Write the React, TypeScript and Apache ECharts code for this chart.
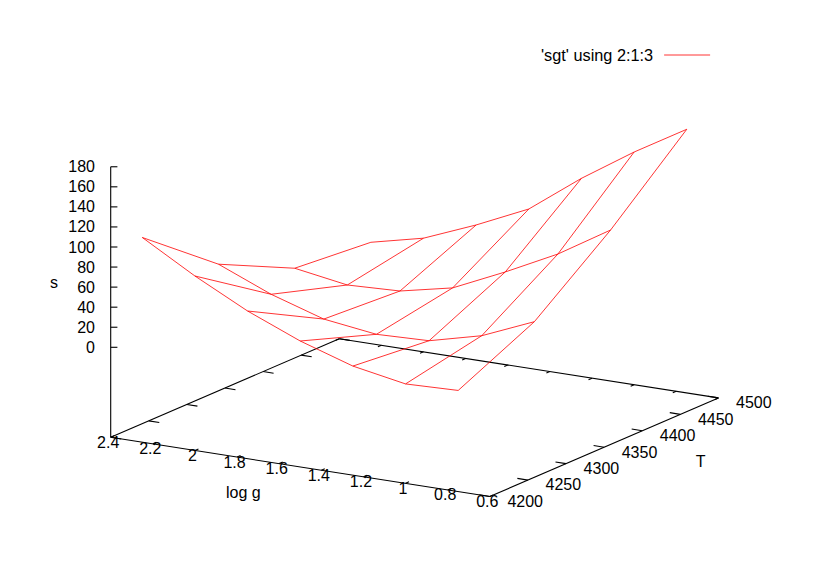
import React, { useEffect, useRef } from "react";
import * as echarts from "echarts";

const LEGEND_NAME = "'sgt' using 2:1:3";
const logG = [2.25, 2, 1.75, 1.5, 1.25, 1, 0.75];
const temps = [4200, 4300, 4400, 4500];
const s4200 = [114.4, 84.2, 57.5, 35.8, 19, 9.4, 11.1];
const s4300 = [55, 33.2, 16.7, 9.7, 11.5, 24.7, 46.9];
const s4400 = [18.2, 9.7, 11.9, 23.2, 47.3, 73.4, 105.5];
const s4500 = [11.3, 23.6, 45, 69.1, 107.9, 142.3, 173.2];
const surface = [s4200, s4300, s4400, s4500];

const gTicks = ["2.4", "2.2", "2", "1.8", "1.6", "1.4", "1.2", "1", "0.8", "0.6"];
const tTicks = ["4200", "4250", "4300", "4350", "4400", "4450", "4500"];
const sTicks = ["0", "20", "40", "60", "80", "100", "120", "140", "160", "180"];

// View of the 3D box: screen position of the (gMax, tMin, base) corner and the axis vectors
const view = {
  originX: 110.7, originY: 437.3,
  gPxX: 210.6, gPxY: 32.9,
  tPxX: 0.762, tPxY: -0.3287,
  sPxY: -1.003, baseOffset: -90,
  gMax: 2.4, gMin: 0.6, tMin: 4200, tMax: 4500, sMax: 180,
};

function project(g: number, t: number, z: number | null): [number, number] {
  const x = view.originX + (view.gMax - g) * view.gPxX + (t - view.tMin) * view.tPxX;
  const y0 = view.originY + (view.gMax - g) * view.gPxY + (t - view.tMin) * view.tPxY;
  return [x, z === null ? y0 : y0 + view.baseOffset + z * view.sPxY];
}

const segments: number[][] = [];
const addSeg = (a: [number, number], b: [number, number]) => segments.push([a[0], a[1], b[0], b[1]]);
const texts: { x: number; y: number; text: string; align: string }[] = [];

// box edges
addSeg(project(view.gMax, view.tMin, null), project(view.gMin, view.tMin, null));
addSeg(project(view.gMin, view.tMin, null), project(view.gMin, view.tMax, null));
addSeg(project(view.gMin, view.tMax, null), project(view.gMax, view.tMax, null));
addSeg(project(view.gMax, view.tMax, null), project(view.gMax, view.tMin, null));
// vertical axis
const zBase = project(view.gMax, view.tMin, null);
const zTop = project(view.gMax, view.tMin, view.sMax);
addSeg(zBase, zTop);

gTicks.forEach((l) => {
  const g = Number(l);
  const f = project(g, view.tMin, null);
  const b = project(g, view.tMax, null);
  segments.push([f[0], f[1], f[0] + 3.5, f[1] - 1.5]);
  segments.push([b[0], b[1], b[0] - 3.5, b[1] + 1.5]);
  texts.push({ x: f[0] - 2.5, y: f[1] + 5, text: l, align: "center" });
});
tTicks.forEach((l) => {
  const t = Number(l);
  const r = project(view.gMin, t, null);
  const a = project(view.gMax, t, null);
  segments.push([r[0], r[1], r[0] - 10.5, r[1] - 1.7]);
  segments.push([a[0], a[1], a[0] + 10.5, a[1] + 1.7]);
  texts.push({ x: r[0] + 35.4, y: r[1] + 4.8, text: l, align: "center" });
});
sTicks.forEach((l) => {
  const p = project(view.gMax, view.tMin, Number(l));
  segments.push([p[0], p[1], p[0] + 6.7, p[1]]);
  texts.push({ x: 95, y: p[1], text: l, align: "right" });
});
texts.push({ x: 54, y: 282.5, text: "s", align: "center" });
texts.push({ x: 243.3, y: 492.7, text: "log g", align: "center" });
texts.push({ x: 700.7, y: 461.7, text: "T", align: "center" });

const RED = "#ff0000";
const FONT = '16px "Liberation Sans", Arial, sans-serif';

function surfaceLine(points: [number, number][]) {
  return {
    type: "line",
    name: LEGEND_NAME,
    data: points,
    symbol: "none",
    silent: true,
    z: 3,
    lineStyle: { color: RED, width: 0.8 },
    itemStyle: { color: RED },
  };
}

export default function App() {
  const ref = useRef<HTMLDivElement>(null);
  useEffect(() => {
    if (!ref.current) return;
    const chart = echarts.init(ref.current, undefined, { renderer: "svg" });
    const rows = temps.map((t, i) =>
      surfaceLine(logG.map((g, j) => project(g, t, surface[i][j])))
    );
    const cols = logG.map((g, j) =>
      surfaceLine(temps.map((t, i) => project(g, t, surface[i][j])))
    );
    chart.setOption({
      animation: false,
      backgroundColor: "#ffffff",
      grid: { left: 0, right: 0, top: 0, bottom: 0 },
      xAxis: { type: "value", min: 0, max: 830, show: false },
      yAxis: { type: "value", min: 0, max: 581, inverse: true, show: false },
      legend: {
        data: [LEGEND_NAME],
        left: 536,
        top: 42,
        align: "right",
        itemWidth: 46,
        itemHeight: 1,
        selectedMode: false,
        lineStyle: { width: 0.8, color: RED },
        textStyle: {
          color: "#000000",
          fontFamily: '"Liberation Sans", Arial, sans-serif',
          fontSize: 16.3,
          padding: [0, 6, 0, 0],
        },
      },
      series: [
        {
          type: "custom",
          name: "axes",
          silent: true,
          z: 2,
          clip: false,
          data: segments,
          renderItem: (_: any, api: any) => {
            const a = api.coord([api.value(0), api.value(1)]);
            const b = api.coord([api.value(2), api.value(3)]);
            return {
              type: "line",
              shape: { x1: a[0], y1: a[1], x2: b[0], y2: b[1] },
              style: { stroke: "#000000", lineWidth: 1.1, fill: "none" },
            };
          },
        },
        {
          type: "custom",
          name: "labels",
          silent: true,
          z: 4,
          clip: false,
          data: texts.map((t) => [t.x, t.y]),
          renderItem: (p: any, api: any) => {
            const c = api.coord([api.value(0), api.value(1)]);
            const t = texts[p.dataIndex];
            return {
              type: "text",
              x: c[0],
              y: c[1],
              style: {
                text: t.text,
                fill: "#000000",
                font: FONT,
                align: t.align,
                verticalAlign: "middle",
              },
            };
          },
        },
        ...rows,
        ...cols,
      ],
    });
    return () => chart.dispose();
  }, []);
  return (
    <div
      ref={ref}
      style={{ position: "absolute", left: 0, top: 0, width: 830, height: 581, background: "#fff" }}
    />
  );
}
